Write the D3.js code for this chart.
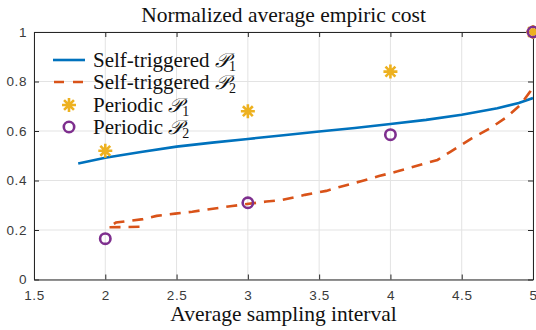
<!DOCTYPE html>
<html>
<head>
<meta charset="utf-8">
<script src="https://cdn.jsdelivr.net/npm/d3@7"></script>
<style>
  html, body { margin: 0; padding: 0; background: #fff; }
  svg { display: block; }
</style>
</head>
<body>
<svg id="chart" width="536" height="330"></svg>
<script>
// Self-triggered cost curves (average sampling interval vs. normalized cost)
const selfP1X = [1.81, 2.0, 2.25, 2.5, 2.75, 3.0, 3.25, 3.5, 3.75, 4.0, 4.25, 4.5, 4.75, 4.9, 5.0];
const selfP1Y = [0.469, 0.492, 0.515, 0.537, 0.553, 0.568, 0.583, 0.598, 0.612, 0.628, 0.645, 0.666, 0.692, 0.713, 0.733];

const selfP2X = [2.24, 2.02, 2.075, 2.265, 2.36, 2.49, 2.61, 2.89, 3.13, 3.23, 3.4, 3.55, 3.65, 3.8, 3.92, 4.05, 4.33, 4.42, 4.57, 4.70, 4.82, 4.91, 4.98, 5.0];
const selfP2Y = [0.213, 0.211, 0.230, 0.244, 0.257, 0.266, 0.274, 0.297, 0.315, 0.320, 0.342, 0.358, 0.375, 0.398, 0.418, 0.437, 0.483, 0.516, 0.570, 0.611, 0.658, 0.705, 0.759, 0.79];

// Periodic sampling results
const periodicX = [2, 3, 4, 5];
const periodicP1 = [0.52, 0.68, 0.84, 1.0];
const periodicP2 = [0.165, 0.31, 0.585, 1.0];

// Axis ticks
const xTicks = [1.5, 2, 2.5, 3, 3.5, 4, 4.5, 5];
const yTicks = [0, 0.2, 0.4, 0.6, 0.8, 1];

const colors = { blue: "#0072BD", orange: "#D95319", yellow: "#EDB120", purple: "#7E2F8E" };
const axisColor = "#262626";
const labelColor = "#3a3a3a";
const gridColor = "#e3e3e3";
const dashPattern = "11,8";

const m = { left: 34, right: 533, top: 32, bottom: 279.5 };
const svg = d3.select("#chart");

const x = d3.scaleLinear().domain([1.5, 5]).range([m.left, m.right]);
const y = d3.scaleLinear().domain([0, 1]).range([m.bottom, m.top]);

// Grid
const grid = svg.append("g");
grid.selectAll(".gx").data(xTicks).join("line")
  .attr("x1", d => x(d)).attr("x2", d => x(d))
  .attr("y1", m.top).attr("y2", m.bottom)
  .attr("stroke", gridColor).attr("stroke-width", 1);
grid.selectAll(".gy").data(yTicks).join("line")
  .attr("x1", m.left).attr("x2", m.right)
  .attr("y1", d => y(d)).attr("y2", d => y(d))
  .attr("stroke", gridColor).attr("stroke-width", 1);

// Axes with inward ticks (box on all four sides)
const tickFont = "'Liberation Sans', Arial, sans-serif";
const xAxis = d3.axisBottom(x).tickValues(xTicks).tickFormat(d3.format("")).tickSizeInner(-5).tickSizeOuter(0).tickPadding(11);
const yAxis = d3.axisLeft(y).tickValues(yTicks).tickFormat(d3.format("")).tickSizeInner(-5).tickSizeOuter(0).tickPadding(7);
const xTop = d3.axisTop(x).tickValues(xTicks).tickFormat("").tickSizeInner(-5).tickSizeOuter(0);
const yRight = d3.axisRight(y).tickValues(yTicks).tickFormat("").tickSizeInner(-5).tickSizeOuter(0);

function styleAxis(g) {
  g.select(".domain").attr("stroke", axisColor).attr("stroke-width", 1);
  g.selectAll(".tick line").attr("stroke", axisColor).attr("stroke-width", 1);
  g.selectAll(".tick text").attr("fill", labelColor).attr("font-family", tickFont)
    .attr("font-size", 13.5).attr("letter-spacing", 0.6);
}
svg.append("g").attr("transform", `translate(0,${m.bottom})`).call(xAxis).call(styleAxis);
svg.append("g").attr("transform", `translate(${m.left},0)`).call(yAxis).call(styleAxis);
svg.append("g").attr("transform", `translate(0,${m.top})`).call(xTop).call(styleAxis);
svg.append("g").attr("transform", `translate(${m.right},0)`).call(yRight).call(styleAxis);

// Curves
svg.append("clipPath").attr("id", "plotClip").append("rect")
  .attr("x", m.left).attr("y", m.top).attr("width", m.right - m.left).attr("height", m.bottom - m.top);

const line = d3.line().x(d => x(d[0])).y(d => y(d[1]));
const p1 = selfP1X.map((v, i) => [v, selfP1Y[i]]);
const p2 = selfP2X.map((v, i) => [v, selfP2Y[i]]);

svg.append("path").datum(p1).attr("d", line)
  .attr("fill", "none").attr("stroke", colors.blue).attr("stroke-width", 2.6)
  .attr("clip-path", "url(#plotClip)");
svg.append("path").datum(p2).attr("d", line)
  .attr("fill", "none").attr("stroke", colors.orange).attr("stroke-width", 2.6)
  .attr("stroke-dasharray", dashPattern).attr("clip-path", "url(#plotClip)");

// Markers
function asterisk(sel, cx, cy, r) {
  const a = r * Math.SQRT1_2;
  sel.append("path")
    .attr("d", `M${cx - r},${cy}L${cx + r},${cy}M${cx},${cy - r}L${cx},${cy + r}` +
               `M${cx - a},${cy - a}L${cx + a},${cy + a}M${cx - a},${cy + a}L${cx + a},${cy - a}`)
    .attr("stroke", colors.yellow).attr("stroke-width", 2.6).attr("fill", "none");
}
const mk = svg.append("g");
periodicX.forEach((v, i) => asterisk(mk, x(v), y(periodicP1[i]), 7));
mk.selectAll("circle").data(periodicX).join("circle")
  .attr("cx", d => x(d)).attr("cy", (d, i) => y(periodicP2[i])).attr("r", 5.2)
  .attr("fill", "none").attr("stroke", colors.purple).attr("stroke-width", 2.6);

// Title and axis label
const serif = "'Liberation Serif', 'Times New Roman', serif";
svg.append("text").attr("x", (m.left + m.right) / 2).attr("y", 22)
  .attr("text-anchor", "middle").attr("font-family", serif).attr("font-size", 21.5)
  .attr("fill", "#111").text("Normalized average empiric cost");
svg.append("text").attr("x", (m.left + m.right) / 2).attr("y", 321)
  .attr("text-anchor", "middle").attr("font-family", serif).attr("font-size", 21.5)
  .attr("fill", "#111").text("Average sampling interval");

// Legend
const legendItems = [
  { name: "Self-triggered ", sub: "1", kind: "solid", color: colors.blue, y: 60 },
  { name: "Self-triggered ", sub: "2", kind: "dash", color: colors.orange, y: 82 },
  { name: "Periodic ", sub: "1", kind: "star", color: colors.yellow, y: 105 },
  { name: "Periodic ", sub: "2", kind: "circle", color: colors.purple, y: 127 }
];
const lg = svg.append("g");
legendItems.forEach(it => {
  if (it.kind === "solid" || it.kind === "dash") {
    lg.append("line").attr("x1", 53).attr("x2", 85).attr("y1", it.y).attr("y2", it.y)
      .attr("stroke", it.color).attr("stroke-width", 2.6)
      .attr("stroke-dasharray", it.kind === "dash" ? "10,9" : null)
      .attr("stroke-dashoffset", it.kind === "dash" ? -1 : null);
  } else if (it.kind === "star") {
    asterisk(lg, 69, it.y, 7);
  } else {
    lg.append("circle").attr("cx", 69).attr("cy", it.y).attr("r", 5.2)
      .attr("fill", "none").attr("stroke", it.color).attr("stroke-width", 2.6);
  }
  const t = lg.append("text").attr("x", 93).attr("y", it.y + 7)
    .attr("font-family", serif).attr("font-size", 21).attr("fill", "#111");
  t.append("tspan").text(it.name);
  t.append("tspan").attr("font-style", "italic").attr("font-size", 20).text("𝒫");
  t.append("tspan").attr("font-size", 14).attr("dy", 4).text(it.sub);
});
</script>
</body>
</html>
